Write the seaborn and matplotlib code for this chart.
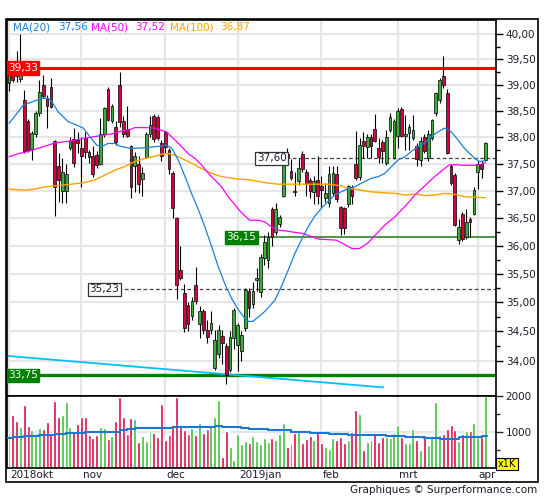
import numpy as np
import matplotlib
matplotlib.use("Agg")
import matplotlib.pyplot as plt
import seaborn as sns
from matplotlib.patches import Rectangle
from matplotlib.ticker import FixedLocator, FuncFormatter, NullFormatter
from matplotlib.transforms import Bbox, TransformedBbox

W, H = 545, 500

# daily candles, Oct 5 2018 .. Apr 3 2019 (trading-day index 1..126)
opens = [
    39.04, 39.20, 39.22, 39.12, 38.71, 38.30, 37.77, 38.06, 38.45, 39.00,
    38.75, 38.95, 37.92, 37.45, 37.00, 37.00, 37.80, 37.96, 37.95, 37.80,
    37.98, 37.71, 37.65, 37.66, 37.50, 38.05, 38.93, 38.30, 38.20, 39.00,
    38.30, 38.15, 37.83, 37.45, 37.50, 37.22, 37.63, 38.05, 38.40, 38.38,
    37.88, 38.10, 37.75, 37.33, 36.50, 35.57, 35.17, 34.96, 34.76, 35.30,
    34.62, 34.85, 34.53, 34.53, 33.87, 34.12, 34.42, 34.25, 33.85, 34.38,
    34.27, 34.16, 34.56, 35.20, 34.98, 35.39, 35.18, 35.78, 35.75, 36.66,
    36.25, 36.40, 36.90, 37.68, 37.36, 37.00, 37.18, 37.68, 37.35, 37.20,
    36.98, 37.20, 37.08, 36.87, 36.77, 36.95, 37.30, 36.70, 36.68, 36.76,
    37.06, 37.50, 37.25, 37.92, 37.82, 38.00, 38.16, 37.79, 37.91, 37.51,
    38.13, 37.60, 38.03, 38.53, 38.03, 38.07, 37.98, 37.83, 37.57, 38.00,
    37.60, 37.98, 38.45, 38.71, 39.17, 38.84, 37.46, 37.29, 36.10, 36.58,
    36.16, 36.49, 36.58, 37.34, 37.50, 37.57]
highs = [
    39.33, 39.30, 39.67, 40.00, 38.90, 38.35, 38.12, 38.50, 39.10, 39.20,
    38.80, 39.13, 37.95, 37.70, 37.60, 37.50, 38.00, 38.17, 38.10, 38.00,
    38.10, 37.75, 37.83, 37.73, 38.36, 38.57, 38.96, 38.64, 38.30, 39.25,
    38.40, 38.60, 37.85, 37.72, 37.65, 37.43, 38.10, 38.40, 38.44, 38.42,
    37.95, 38.12, 37.80, 37.36, 36.52, 36.00, 35.32, 35.00, 35.10, 35.63,
    34.93, 34.88, 34.70, 34.85, 34.52, 34.60, 34.52, 34.30, 34.50, 34.90,
    34.65, 34.50, 35.25, 35.25, 35.35, 35.60, 35.85, 36.20, 36.25, 36.70,
    36.78, 36.56, 37.68, 37.80, 37.58, 37.35, 37.60, 37.73, 37.40, 37.23,
    37.27, 37.64, 37.27, 37.15, 37.45, 37.45, 37.45, 36.72, 36.70, 37.10,
    37.10, 38.11, 37.98, 38.10, 38.06, 38.05, 38.44, 37.98, 37.95, 38.13,
    38.45, 38.35, 38.55, 38.58, 38.42, 38.24, 38.42, 37.89, 38.00, 38.06,
    38.13, 38.35, 38.87, 39.13, 39.56, 38.92, 37.50, 37.32, 36.49, 36.61,
    36.67, 36.52, 37.07, 37.55, 37.55, 37.90]
lows = [
    38.88, 39.05, 39.06, 39.05, 37.70, 37.72, 37.57, 38.00, 38.40, 38.75,
    38.17, 38.55, 36.54, 36.80, 36.77, 36.77, 37.75, 37.43, 37.70, 37.07,
    37.60, 37.52, 37.25, 37.42, 37.48, 38.00, 38.30, 38.27, 37.85, 38.20,
    38.00, 38.00, 36.86, 36.98, 36.96, 36.90, 37.60, 38.00, 37.90, 37.94,
    37.55, 37.70, 37.30, 36.50, 35.05, 35.40, 34.48, 34.50, 34.70, 34.98,
    34.38, 34.45, 34.30, 34.45, 33.85, 34.05, 33.95, 33.60, 33.80, 34.20,
    33.82, 34.00, 34.50, 34.75, 34.90, 35.20, 35.10, 35.65, 35.60, 36.00,
    36.20, 36.33, 36.88, 37.50, 37.20, 36.90, 37.10, 37.35, 36.90, 36.86,
    36.75, 36.75, 36.70, 36.80, 36.70, 36.90, 36.80, 36.20, 36.22, 36.70,
    36.75, 37.20, 37.20, 37.60, 37.60, 37.60, 37.90, 37.51, 37.51, 37.48,
    38.10, 37.58, 37.79, 38.00, 37.76, 37.76, 37.95, 37.45, 37.45, 37.70,
    37.55, 37.95, 38.40, 38.65, 38.94, 37.68, 37.10, 36.35, 36.03, 36.08,
    36.13, 36.16, 36.55, 37.04, 37.23, 37.55]
closes = [
    39.26, 39.10, 39.17, 39.20, 37.73, 37.76, 38.08, 38.45, 38.87, 38.78,
    38.60, 38.58, 37.07, 37.20, 37.35, 37.30, 37.92, 37.52, 37.88, 37.64,
    37.72, 37.62, 37.30, 37.48, 38.05, 38.55, 38.33, 38.60, 37.90, 38.28,
    38.06, 38.03, 37.07, 37.65, 37.12, 37.33, 38.05, 38.22, 37.96, 37.98,
    37.65, 37.82, 37.40, 36.69, 35.30, 35.43, 34.56, 34.62, 35.02, 35.02,
    34.85, 34.53, 34.41, 34.64, 34.35, 34.52, 34.30, 33.76, 34.41, 34.86,
    34.60, 34.43, 35.22, 34.90, 35.20, 35.42, 35.80, 36.06, 36.16, 36.16,
    36.66, 36.52, 37.62, 37.60, 37.24, 36.98, 37.42, 37.40, 37.12, 37.00,
    37.18, 36.90, 37.02, 36.95, 37.30, 37.33, 36.85, 36.32, 36.32, 37.08,
    36.90, 37.24, 37.86, 37.83, 38.00, 37.83, 37.93, 37.62, 37.74, 38.00,
    38.38, 38.31, 38.50, 38.03, 38.06, 38.19, 38.13, 37.58, 37.93, 37.74,
    38.06, 38.32, 38.84, 39.10, 39.00, 37.70, 37.15, 36.37, 36.34, 36.13,
    36.43, 36.43, 37.02, 37.50, 37.40, 37.89]
# volume, thousands
volumes = [
    963, 1463, 1296, 1130, 1741, 1157, 1046, 907, 1102, 1074,
    1269, 963, 1852, 1407, 1463, 1824, 1130, 1019, 1213, 1407,
    1407, 907, 824, 907, 1130, 1102, 796, 880, 1296, 1963,
    1407, 935, 1380, 1352, 713, 880, 741, 1046, 963, 852,
    1769, 769, 907, 1102, 1963, 1130, 1046, 935, 1102, 907,
    1241, 963, 1074, 1157, 1407, 1880, 296, 1019, 574, 213,
    935, 657, 741, 685, 880, 741, 657, 824, 713, 824,
    769, 935, 1241, 574, 657, 963, 1046, 685, 796, 880,
    769, 991, 685, 574, 519, 824, 769, 852, 685, 769,
    991, 1602, 1491, 491, 713, 769, 935, 713, 852, 852,
    824, 963, 1185, 852, 685, 685, 1074, 769, 491, 907,
    630, 852, 1824, 907, 935, 1074, 1185, 1046, 741, 935,
    1019, 1019, 1241, 852, 852, 2000]

# moving averages, read at trading-day positions
ma20_x = [1, 4.8, 9.6, 11.3, 12.2, 13.9, 16.6, 18.7, 20.5, 22.2, 24, 25.3, 27, 28.8,
          30.1, 32.7, 34, 36.7, 39.3, 41, 42.3, 43.7, 45.4, 47.2, 48.9, 50.7, 52.4,
          54.2, 55.9, 57.6, 59.4, 61.2, 62.9, 63.8, 65, 68.1, 70.8, 72.5, 74.3, 76,
          77.7, 79.5, 81.2, 83, 84.7, 86.5, 88.2, 90, 91.7, 93.5, 96.1, 97.9, 99.6,
          101.4, 103.1, 104.9, 106.6, 108.3, 110.1, 111.8, 113.6, 115.3, 116.6,
          117.9, 119.2, 120.5, 121.9, 123.2, 124.5, 126]
ma20_y = [38.26, 38.61, 38.74, 38.74, 38.68, 38.48, 38.29, 38.23, 38.17, 38.01,
          37.85, 37.82, 37.88, 37.88, 37.83, 37.79, 37.79, 37.80, 37.82, 37.83,
          37.85, 37.79, 37.57, 37.26, 36.95, 36.65, 36.34, 35.98, 35.63, 35.33,
          35.07, 34.87, 34.72, 34.67, 34.67, 34.84, 35.04, 35.28, 35.57, 35.86,
          36.10, 36.34, 36.53, 36.68, 36.80, 36.92, 36.98, 37.04, 37.07, 37.14,
          37.23, 37.26, 37.32, 37.45, 37.57, 37.63, 37.73, 37.82, 37.89, 38.01,
          38.10, 38.17, 38.13, 38.03, 37.91, 37.79, 37.69, 37.60, 37.54, 37.56]
ma50_x = [1, 3.6, 6.1, 8.7, 13.1, 17.4, 20.9, 23.5, 25.3, 27.9, 30.1, 32.7, 34, 36.7,
          39.3, 41, 42.3, 44.5, 46.3, 48, 49.8, 51.5, 53.3, 55, 56.8, 58.6, 60.3,
          62.1, 64.2, 66.4, 68.1, 69.9, 71.6, 73.4, 75.1, 78.2, 82.2, 87, 91, 93,
          95.2, 97.5, 99.6, 102.2, 104.9, 107.5, 110.1, 112.7, 115.3, 116.6, 118.8,
          120.5, 123.2, 124.5, 126]
ma50_y = [37.63, 37.69, 37.73, 37.79, 37.89, 37.93, 37.98, 38.01, 38.03, 38.06,
          38.11, 38.14, 38.18, 38.18, 38.17, 38.13, 38.10, 37.95, 37.82, 37.69,
          37.60, 37.48, 37.32, 37.20, 37.07, 36.88, 36.74, 36.59, 36.46, 36.46,
          36.43, 36.34, 36.28, 36.27, 36.25, 36.22, 36.12, 36.10, 35.95, 35.95,
          36.05, 36.22, 36.37, 36.52, 36.71, 36.92, 37.09, 37.26, 37.41, 37.48,
          37.48, 37.47, 37.47, 37.48, 37.52]
ma100_x = [1, 5.2, 7.8, 10.4, 13.1, 17.4, 20.9, 23.6, 26.2, 28.8, 31.4, 34, 36.7,
           39.3, 41, 42.8, 44.5, 46.3, 48.9, 51.5, 54.2, 56.8, 59.4, 62, 64.2, 68.1,
           71.6, 76, 80.5, 84.8, 88.2, 90, 91.7, 93.5, 95.7, 99.6, 102.2, 104.9,
           107.5, 110.1, 112.7, 115.3, 117.1, 118.8, 120.5, 123.2, 126]
ma100_y = [37.03, 37.01, 37.03, 37.07, 37.09, 37.12, 37.15, 37.20, 37.29, 37.38,
           37.45, 37.54, 37.60, 37.64, 37.68, 37.69, 37.66, 37.60, 37.51, 37.41,
           37.32, 37.26, 37.23, 37.21, 37.20, 37.15, 37.12, 37.12, 37.12, 37.12,
           37.09, 37.04, 37.03, 37.01, 36.98, 36.96, 36.95, 36.92, 36.94, 36.91,
           36.92, 36.95, 36.94, 36.92, 36.89, 36.88, 36.87]
ma_last = [37.56, 37.52, 36.87]

# volume moving average (step line)
vma_x = [0.5, 2, 5, 9, 13, 16, 21, 30, 32, 34, 44, 55, 57, 62, 64, 69, 75, 80, 85,
         90, 100, 105, 110, 114, 119, 125, 126.5]
vma_y = [815, 843, 870, 898, 926, 954, 1000, 1037, 1065, 1093, 1120, 1148, 1120,
         1093, 1065, 1037, 991, 954, 926, 898, 870, 843, 815, 806, 843, 870, 870]

# long trend line
trend_x = [0.5, 99.2]
trend_y = [34.08, 33.55]

resistance = 39.33
support = 33.75
level_green = 36.15
level_hi = 37.60
level_lo = 35.23

month_start = [1, 20, 42, 61, 83, 103, 124]
month_label = ["2018okt", "nov", "dec", "2019jan", "feb", "mrt", "apr"]

RED = "#d6003c"
GREEN = "#3aae3a"
VRED = "#dc0a46"
VGREEN = "#3cc03c"
C20 = "#1a80d8"
C50 = "#ff00ff"
C100 = "#ffa200"
GRID = "#e6e6e6"
TXT = "#1a1a2e"

sns.set_theme(style="white")
plt.rcParams["font.family"] = ["DejaVu Sans"]


def fx(px):
    return px / W


def fy(py):
    return 1 - py / H


def fmt(v):
    return f"{v:.2f}".replace(".", ",")


fig = plt.figure(figsize=(W / 100, H / 100), dpi=100)
fig.patch.set_facecolor("white")
ax = fig.add_axes([fx(7), fy(395.5), (496 - 7) / W, (395.5 - 20) / H])
axv = fig.add_axes([fx(7), fy(467.5), (496 - 7) / W, (467.5 - 395.5) / H], sharex=ax)

x = np.arange(1, len(opens) + 1)
o = np.array(opens)
h = np.array(highs)
l = np.array(lows)
c = np.array(closes)
up = c >= o

# price panel
ax.set_yscale("log")
ax.set_xlim(0.475, 128.8)
ax.set_ylim(33.415, 40.28)
ticks = np.arange(34.0, 40.01, 0.5)
ax.yaxis.set_major_locator(FixedLocator(ticks))
ax.yaxis.set_minor_locator(FixedLocator(ticks[:-1] + 0.25))
ax.yaxis.set_major_formatter(FuncFormatter(lambda v, p: fmt(v)))
ax.yaxis.set_minor_formatter(NullFormatter())
ax.yaxis.tick_right()
ax.tick_params(axis="y", which="major", direction="out", length=5, width=1,
               labelsize=7.5, pad=2, colors="black", labelcolor=TXT)
ax.tick_params(axis="y", which="minor", direction="out", length=3, width=1, colors="black")
ax.tick_params(axis="x", bottom=False, labelbottom=False)
for t in ticks:
    ax.axhline(t, color=GRID, lw=1.5, zorder=0)
for m in month_start:
    ax.axvline(m, color=GRID, lw=1.5, zorder=0)
    axv.axvline(m, color=GRID, lw=1.5, zorder=0)

ax.axhline(resistance, color="#ff0000", lw=2.2, zorder=2)
ax.axhline(support, color="#008000", lw=2.4, zorder=2)
ax.axhline(level_green, xmin=0.51, color="#1a7a1a", lw=1.1, zorder=2)
ax.axhline(level_hi, xmin=0.571, color="#444444", lw=0.9, ls=(0, (3, 2)), zorder=2)
ax.axhline(level_lo, xmin=0.227, color="#444444", lw=0.9, ls=(0, (3, 2)), zorder=2)
sns.lineplot(x=trend_x, y=trend_y, ax=ax, color="#00bfff", lw=1.3, zorder=2)

ax.vlines(x, l, h, color="black", lw=0.8, zorder=3)
lo_b = np.minimum(o, c)
hi_b = np.maximum(o, c)
ax.bar(x, hi_b - lo_b, bottom=lo_b, width=0.72, color=np.where(up, GREEN, RED),
       edgecolor="black", linewidth=0.5, zorder=4)

sns.lineplot(x=ma100_x, y=ma100_y, ax=ax, color=C100, lw=1.0, zorder=5)
sns.lineplot(x=ma50_x, y=ma50_y, ax=ax, color=C50, lw=0.9, zorder=5)
sns.lineplot(x=ma20_x, y=ma20_y, ax=ax, color=C20, lw=0.9, zorder=5)

yt = ax.get_yaxis_transform()
box = dict(boxstyle="square,pad=0.15")
ax.text(0.002, resistance, fmt(resistance), transform=yt, ha="left", va="center",
        fontsize=7.5, color="white", zorder=7, bbox={**box, "fc": "#ff0000", "ec": "#ff0000"})
ax.text(0.002, support, fmt(support), transform=yt, ha="left", va="center",
        fontsize=7.5, color="white", zorder=7, bbox={**box, "fc": "#008000", "ec": "#008000"})
ax.text(0.449, level_green, fmt(level_green), transform=yt, ha="left", va="center",
        fontsize=7.5, color="white", zorder=7, bbox={**box, "fc": "#008000", "ec": "#008000"})
ax.text(0.511, level_hi, fmt(level_hi), transform=yt, ha="left", va="center",
        fontsize=7.5, color=TXT, zorder=7, bbox={**box, "fc": "white", "ec": "#333333", "lw": 0.9})
ax.text(0.168, level_lo, fmt(level_lo), transform=yt, ha="left", va="center",
        fontsize=7.5, color=TXT, zorder=7, bbox={**box, "fc": "white", "ec": "#333333", "lw": 0.9})

# legend line at top
legend = [("MA(20)", 13, C20), (fmt(ma_last[0]), 58, C20),
          ("MA(50)", 91, C50), (fmt(ma_last[1]), 135, C50),
          ("MA(100)", 170, C100), (fmt(ma_last[2]), 220, C100)]
for txt, px, col in legend:
    fig.text(fx(px), fy(27), txt, ha="left", va="center", fontsize=7.5, color=col)

# volume panel
axv.set_ylim(0, 2005)
axv.bar(x, volumes, width=0.78, color=np.where(up, VGREEN, VRED), zorder=2)
sns.lineplot(x=vma_x, y=vma_y, ax=axv, color="#1a78d4", lw=1.5,
             drawstyle="steps-post", zorder=3)
axv.axhline(1000, color=GRID, lw=1.5, zorder=0)
axv.yaxis.set_major_locator(FixedLocator([1000, 2000]))
axv.yaxis.set_minor_locator(FixedLocator([500, 1500]))
axv.yaxis.set_major_formatter(FuncFormatter(lambda v, p: f"{int(v)}"))
axv.yaxis.tick_right()
axv.tick_params(axis="y", which="major", direction="out", length=5, width=1,
                labelsize=7.5, pad=2, labelcolor=TXT)
axv.tick_params(axis="y", which="minor", direction="out", length=3, width=1)
axv.tick_params(axis="x", bottom=False, labelbottom=False)

for a in (ax, axv):
    for s in a.spines.values():
        s.set_color("black")
        s.set_linewidth(1.2)

clip = TransformedBbox(Bbox.from_extents(0, 0, fx(496), 1), fig.transFigure)
xt = axv.get_xaxis_transform()
for m, lab in zip(month_start, month_label):
    t = axv.text(m + 0.3, -0.105, lab, transform=xt, ha="left", va="center",
                 fontsize=7.5, color=TXT, clip_on=True)
    t.set_clip_box(clip)

fig.text(fx(507), fy(464), "x1K", ha="center", va="center", fontsize=7, color="black",
         bbox=dict(boxstyle="square,pad=0.15", fc="#ffff00", ec="black", lw=0.8))

fig.add_artist(Rectangle((fx(6), fy(482)), (538 - 6) / W, (482 - 19) / H,
                         transform=fig.transFigure, fill=False, ec="black", lw=1.2))
fig.text(fx(537), fy(490), "Graphiques © Surperformance.com", ha="right", va="center",
         fontsize=7.5, color=TXT)

fig.savefig("out.png", dpi=100)
